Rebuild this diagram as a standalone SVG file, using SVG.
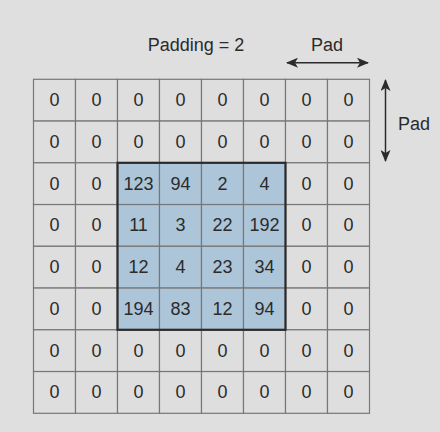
<svg xmlns="http://www.w3.org/2000/svg" width="440" height="432" viewBox="0 0 440 432">
<defs>
<style>
text{font-family:"Liberation Sans",Arial,sans-serif;fill:#2b2b2b;}
.n{font-size:18px;text-anchor:middle;}
.lbl{font-size:18px;}
.cell{fill:#dedede;stroke:#777;stroke-width:1.2;}
.in{fill:#adc5d8;}
.arr{stroke:#2b2b2b;stroke-width:1.5;fill:none;}
</style>
<marker id="ah" viewBox="0 0 12 10" refX="11" refY="5" markerWidth="12" markerHeight="10" markerUnits="userSpaceOnUse" orient="auto-start-reverse">
<path d="M0,0 L12,5 L0,10 L3,5 z" fill="#2b2b2b"/>
</marker>
</defs>
<rect width="440" height="432" fill="#dfdfdf"/>
<g id="grid">
<g id="row0">
<rect class="cell" x="33.5" y="79.3" width="42" height="41.75"/><rect class="cell" x="75.5" y="79.3" width="42" height="41.75"/><rect class="cell" x="117.5" y="79.3" width="42" height="41.75"/><rect class="cell" x="159.5" y="79.3" width="42" height="41.75"/><rect class="cell" x="201.5" y="79.3" width="42" height="41.75"/><rect class="cell" x="243.5" y="79.3" width="42" height="41.75"/><rect class="cell" x="285.5" y="79.3" width="42" height="41.75"/><rect class="cell" x="327.5" y="79.3" width="42" height="41.75"/>
<text class="n" x="54.5" y="106">0</text><text class="n" x="96.5" y="106">0</text><text class="n" x="138.5" y="106">0</text><text class="n" x="180.5" y="106">0</text><text class="n" x="222.5" y="106">0</text><text class="n" x="264.5" y="106">0</text><text class="n" x="306.5" y="106">0</text><text class="n" x="348.5" y="106">0</text>
</g>
<g id="row1">
<rect class="cell" x="33.5" y="121.05" width="42" height="41.75"/><rect class="cell" x="75.5" y="121.05" width="42" height="41.75"/><rect class="cell" x="117.5" y="121.05" width="42" height="41.75"/><rect class="cell" x="159.5" y="121.05" width="42" height="41.75"/><rect class="cell" x="201.5" y="121.05" width="42" height="41.75"/><rect class="cell" x="243.5" y="121.05" width="42" height="41.75"/><rect class="cell" x="285.5" y="121.05" width="42" height="41.75"/><rect class="cell" x="327.5" y="121.05" width="42" height="41.75"/>
<text class="n" x="54.5" y="147.8">0</text><text class="n" x="96.5" y="147.8">0</text><text class="n" x="138.5" y="147.8">0</text><text class="n" x="180.5" y="147.8">0</text><text class="n" x="222.5" y="147.8">0</text><text class="n" x="264.5" y="147.8">0</text><text class="n" x="306.5" y="147.8">0</text><text class="n" x="348.5" y="147.8">0</text>
</g>
<g id="row2">
<rect class="cell" x="33.5" y="162.8" width="42" height="41.75"/><rect class="cell" x="75.5" y="162.8" width="42" height="41.75"/><rect class="cell in" x="117.5" y="162.8" width="42" height="41.75"/><rect class="cell in" x="159.5" y="162.8" width="42" height="41.75"/><rect class="cell in" x="201.5" y="162.8" width="42" height="41.75"/><rect class="cell in" x="243.5" y="162.8" width="42" height="41.75"/><rect class="cell" x="285.5" y="162.8" width="42" height="41.75"/><rect class="cell" x="327.5" y="162.8" width="42" height="41.75"/>
<text class="n" x="54.5" y="189.5">0</text><text class="n" x="96.5" y="189.5">0</text><text class="n" x="138.5" y="189.5">123</text><text class="n" x="180.5" y="189.5">94</text><text class="n" x="222.5" y="189.5">2</text><text class="n" x="264.5" y="189.5">4</text><text class="n" x="306.5" y="189.5">0</text><text class="n" x="348.5" y="189.5">0</text>
</g>
<g id="row3">
<rect class="cell" x="33.5" y="204.55" width="42" height="41.75"/><rect class="cell" x="75.5" y="204.55" width="42" height="41.75"/><rect class="cell in" x="117.5" y="204.55" width="42" height="41.75"/><rect class="cell in" x="159.5" y="204.55" width="42" height="41.75"/><rect class="cell in" x="201.5" y="204.55" width="42" height="41.75"/><rect class="cell in" x="243.5" y="204.55" width="42" height="41.75"/><rect class="cell" x="285.5" y="204.55" width="42" height="41.75"/><rect class="cell" x="327.5" y="204.55" width="42" height="41.75"/>
<text class="n" x="54.5" y="231.3">0</text><text class="n" x="96.5" y="231.3">0</text><text class="n" x="138.5" y="231.3">11</text><text class="n" x="180.5" y="231.3">3</text><text class="n" x="222.5" y="231.3">22</text><text class="n" x="264.5" y="231.3">192</text><text class="n" x="306.5" y="231.3">0</text><text class="n" x="348.5" y="231.3">0</text>
</g>
<g id="row4">
<rect class="cell" x="33.5" y="246.3" width="42" height="41.75"/><rect class="cell" x="75.5" y="246.3" width="42" height="41.75"/><rect class="cell in" x="117.5" y="246.3" width="42" height="41.75"/><rect class="cell in" x="159.5" y="246.3" width="42" height="41.75"/><rect class="cell in" x="201.5" y="246.3" width="42" height="41.75"/><rect class="cell in" x="243.5" y="246.3" width="42" height="41.75"/><rect class="cell" x="285.5" y="246.3" width="42" height="41.75"/><rect class="cell" x="327.5" y="246.3" width="42" height="41.75"/>
<text class="n" x="54.5" y="273">0</text><text class="n" x="96.5" y="273">0</text><text class="n" x="138.5" y="273">12</text><text class="n" x="180.5" y="273">4</text><text class="n" x="222.5" y="273">23</text><text class="n" x="264.5" y="273">34</text><text class="n" x="306.5" y="273">0</text><text class="n" x="348.5" y="273">0</text>
</g>
<g id="row5">
<rect class="cell" x="33.5" y="288.05" width="42" height="41.75"/><rect class="cell" x="75.5" y="288.05" width="42" height="41.75"/><rect class="cell in" x="117.5" y="288.05" width="42" height="41.75"/><rect class="cell in" x="159.5" y="288.05" width="42" height="41.75"/><rect class="cell in" x="201.5" y="288.05" width="42" height="41.75"/><rect class="cell in" x="243.5" y="288.05" width="42" height="41.75"/><rect class="cell" x="285.5" y="288.05" width="42" height="41.75"/><rect class="cell" x="327.5" y="288.05" width="42" height="41.75"/>
<text class="n" x="54.5" y="314.8">0</text><text class="n" x="96.5" y="314.8">0</text><text class="n" x="138.5" y="314.8">194</text><text class="n" x="180.5" y="314.8">83</text><text class="n" x="222.5" y="314.8">12</text><text class="n" x="264.5" y="314.8">94</text><text class="n" x="306.5" y="314.8">0</text><text class="n" x="348.5" y="314.8">0</text>
</g>
<g id="row6">
<rect class="cell" x="33.5" y="329.8" width="42" height="41.75"/><rect class="cell" x="75.5" y="329.8" width="42" height="41.75"/><rect class="cell" x="117.5" y="329.8" width="42" height="41.75"/><rect class="cell" x="159.5" y="329.8" width="42" height="41.75"/><rect class="cell" x="201.5" y="329.8" width="42" height="41.75"/><rect class="cell" x="243.5" y="329.8" width="42" height="41.75"/><rect class="cell" x="285.5" y="329.8" width="42" height="41.75"/><rect class="cell" x="327.5" y="329.8" width="42" height="41.75"/>
<text class="n" x="54.5" y="356.5">0</text><text class="n" x="96.5" y="356.5">0</text><text class="n" x="138.5" y="356.5">0</text><text class="n" x="180.5" y="356.5">0</text><text class="n" x="222.5" y="356.5">0</text><text class="n" x="264.5" y="356.5">0</text><text class="n" x="306.5" y="356.5">0</text><text class="n" x="348.5" y="356.5">0</text>
</g>
<g id="row7">
<rect class="cell" x="33.5" y="371.55" width="42" height="41.75"/><rect class="cell" x="75.5" y="371.55" width="42" height="41.75"/><rect class="cell" x="117.5" y="371.55" width="42" height="41.75"/><rect class="cell" x="159.5" y="371.55" width="42" height="41.75"/><rect class="cell" x="201.5" y="371.55" width="42" height="41.75"/><rect class="cell" x="243.5" y="371.55" width="42" height="41.75"/><rect class="cell" x="285.5" y="371.55" width="42" height="41.75"/><rect class="cell" x="327.5" y="371.55" width="42" height="41.75"/>
<text class="n" x="54.5" y="398.3">0</text><text class="n" x="96.5" y="398.3">0</text><text class="n" x="138.5" y="398.3">0</text><text class="n" x="180.5" y="398.3">0</text><text class="n" x="222.5" y="398.3">0</text><text class="n" x="264.5" y="398.3">0</text><text class="n" x="306.5" y="398.3">0</text><text class="n" x="348.5" y="398.3">0</text>
</g>
<rect id="input" x="117.5" y="162.8" width="168" height="167" fill="none" stroke="#2b2b2b" stroke-width="2.2"/>
</g>
<g id="labels">
<text class="lbl" x="196" y="50.5" text-anchor="middle">Padding = 2</text>
<text class="lbl" x="327" y="50.5" text-anchor="middle">Pad</text>
<text class="lbl" x="398" y="129.5">Pad</text>
</g>
<g id="connectors">
<line class="arr" x1="287" y1="62.7" x2="368" y2="62.7" marker-start="url(#ah)" marker-end="url(#ah)"/>
<line class="arr" x1="385.5" y1="80" x2="385.5" y2="161" marker-start="url(#ah)" marker-end="url(#ah)"/>
</g>
</svg>
